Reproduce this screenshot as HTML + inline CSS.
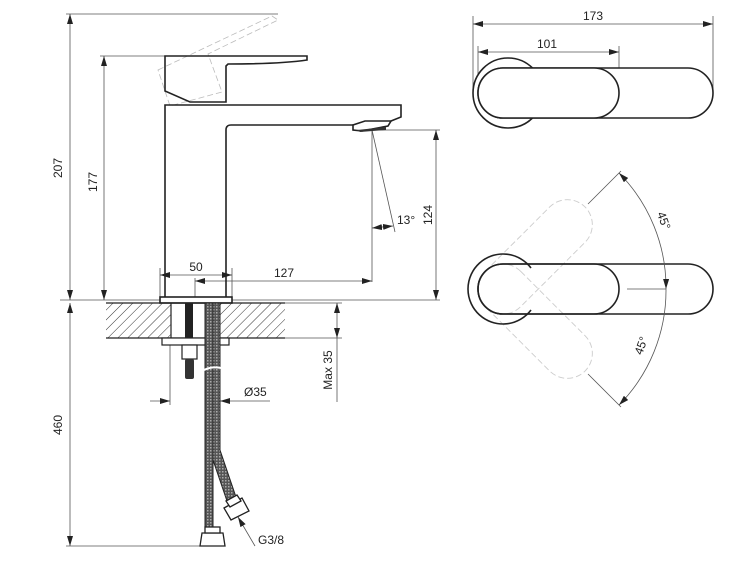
<!DOCTYPE html>
<html><head><meta charset="utf-8"><style>
html,body{margin:0;padding:0;background:#fff;}
svg{display:block;}
text{font-family:"Liberation Sans",sans-serif;font-size:12px;fill:#222;}
</style></head><body>
<svg width="738" height="577" viewBox="0 0 738 577" xmlns="http://www.w3.org/2000/svg">
<defs>
<pattern id="h" width="7" height="7" patternUnits="userSpaceOnUse" patternTransform="rotate(45)">
<line x1="0" y1="0" x2="0" y2="7" stroke="#333" stroke-width="1"/>
</pattern>
<pattern id="hose" width="3" height="3" patternUnits="userSpaceOnUse">
<rect width="3" height="3" fill="#555"/><rect width="1.5" height="1.5" fill="#aaa"/>
</pattern>
<marker id="a" viewBox="0 0 10 6" refX="10" refY="3" markerWidth="10" markerHeight="6" orient="auto-start-reverse" markerUnits="userSpaceOnUse">
<path d="M0,0 L10,3 L0,6 z" fill="#222"/>
</marker>
</defs>

<!-- dimension lines thin -->
<g stroke="#555" stroke-width="0.8" fill="none">
<line x1="66" y1="14" x2="278" y2="14"/>
<line x1="70" y1="14" x2="70" y2="300" marker-start="url(#a)" marker-end="url(#a)"/>
<line x1="100" y1="56" x2="165" y2="56"/>
<line x1="104" y1="56" x2="104" y2="300" marker-start="url(#a)" marker-end="url(#a)"/>
<line x1="370" y1="130" x2="440" y2="130"/>
<line x1="436" y1="130" x2="436" y2="300" marker-start="url(#a)" marker-end="url(#a)"/>
<line x1="372" y1="130" x2="372" y2="282"/>
<line x1="372" y1="130" x2="395" y2="232"/>
<line x1="372" y1="228" x2="393" y2="226" marker-start="url(#a)" marker-end="url(#a)"/>
<line x1="160" y1="268" x2="160" y2="297"/>
<line x1="232" y1="268" x2="232" y2="297"/>
<line x1="195" y1="278" x2="195" y2="300"/>
<line x1="160" y1="275" x2="232" y2="275" marker-start="url(#a)" marker-end="url(#a)"/>
<line x1="195" y1="281" x2="372" y2="281" marker-start="url(#a)" marker-end="url(#a)"/>
<line x1="60" y1="300" x2="440" y2="300"/>
<line x1="70" y1="303" x2="70" y2="546" marker-start="url(#a)" marker-end="url(#a)"/>
<line x1="66" y1="546" x2="200" y2="546"/>
<line x1="285" y1="338" x2="342" y2="338"/>
<line x1="285" y1="303" x2="342" y2="303"/>
<line x1="337" y1="303" x2="337" y2="338" marker-start="url(#a)" marker-end="url(#a)"/>
<line x1="337" y1="338" x2="337" y2="402"/>
<line x1="170" y1="345" x2="170" y2="405"/>
<line x1="220" y1="345" x2="220" y2="405"/>
<line x1="150" y1="401" x2="170" y2="401" marker-end="url(#a)"/>
<line x1="270" y1="401" x2="220" y2="401" marker-end="url(#a)"/>
<line x1="255" y1="546" x2="238" y2="517" marker-end="url(#a)"/>
</g>
<text x="62" y="168" transform="rotate(-90 62 168)" text-anchor="middle">207</text>
<text x="97" y="182" transform="rotate(-90 97 182)" text-anchor="middle">177</text>
<text x="432" y="215" transform="rotate(-90 432 215)" text-anchor="middle">124</text>
<text x="397" y="224">13°</text>
<text x="196" y="271" text-anchor="middle">50</text>
<text x="284" y="277" text-anchor="middle">127</text>
<text x="62" y="425" transform="rotate(-90 62 425)" text-anchor="middle">460</text>
<text x="332" y="370" transform="rotate(-90 332 370)" text-anchor="middle">Max 35</text>
<text x="244" y="396">Ø35</text>
<text x="258" y="544">G3/8</text>

<!-- dashed raised lever -->
<g stroke="#bbb" stroke-width="0.8" fill="none" stroke-dasharray="6,3">
<path d="M158,70 L272,16 L278,20 L208,54 L222,92 L170,106 Z"/>
</g>

<!-- faucet body -->
<g stroke="#222" stroke-width="1.6" fill="none">
<path d="M165,56 L307,56 L307,60 Q280,64 228,64 L226,66 L226,102 L190,102 L165,91 Z"/>
<path d="M165,297 L165,105 L401,105 L401,117 L391,121"/>
<path d="M226,297 L226,130 Q226,125 231,125 L353,125"/>
<path d="M353,125 L353,130 L362,131 L388,126 L391,121 L365,121 Z"/>
<rect x="160" y="297" width="72" height="6" fill="#fff"/>
</g>
<path d="M357,130 L386,127 L386,130 L360,132 Z" fill="#333"/>

<!-- countertop -->
<rect x="106" y="303" width="65" height="35" fill="url(#h)"/>
<rect x="220" y="303" width="65" height="35" fill="url(#h)"/>
<g stroke="#222" stroke-width="1.2" fill="none">
<line x1="106" y1="303" x2="285" y2="303"/>
<line x1="106" y1="338" x2="285" y2="338"/>
<line x1="171" y1="303" x2="171" y2="338"/>
<rect x="162" y="338" width="67" height="7" fill="#fff"/>
</g>
<rect x="185" y="303" width="8" height="35" fill="#222"/>
<rect x="182" y="345" width="15" height="14" fill="#fff" stroke="#222" stroke-width="1.2"/>
<rect x="185" y="359" width="9" height="20" fill="#333" rx="2"/>
<!-- hoses -->
<path d="M205,303 L220,303 L220,450 L237,500 L228,504 L213,460 L213,530 L205,530 Z" fill="url(#hose)" stroke="#222" stroke-width="1"/>
<line x1="213" y1="303" x2="213" y2="530" stroke="#222" stroke-width="0.8"/>
<path d="M204,370 Q212,366 221,368" stroke="#fff" stroke-width="2" fill="none"/>
<g stroke="#222" stroke-width="1.3" fill="#fff">
<path d="M202,533 L223,533 L225,546 L200,546 Z"/>
<rect x="205" y="527" width="15" height="6"/>
<path d="M224,508 L242,498 L249,511 L231,520 Z"/>
<path d="M226,501 L237,495 L241,501 L230,507 Z"/>
</g>

<!-- top view dims -->
<g stroke="#555" stroke-width="0.8" fill="none">
<line x1="473" y1="16" x2="473" y2="92"/>
<line x1="713" y1="16" x2="713" y2="92"/>
<line x1="478" y1="46" x2="478" y2="92"/>
<line x1="619" y1="46" x2="619" y2="92"/>
<line x1="473" y1="24" x2="713" y2="24" marker-start="url(#a)" marker-end="url(#a)"/>
<line x1="478" y1="52" x2="619" y2="52" marker-start="url(#a)" marker-end="url(#a)"/>
</g>
<text x="593" y="20" text-anchor="middle">173</text>
<text x="547" y="48" text-anchor="middle">101</text>

<g stroke="#222" stroke-width="1.6" fill="#fff">
<circle cx="508" cy="93" r="35"/>
<rect x="478" y="68" width="235" height="50" rx="25"/>
<rect x="478" y="68" width="141" height="50" rx="25"/>
</g>

<!-- bottom view -->
<g stroke="#ccc" stroke-width="0.9" fill="none" stroke-dasharray="6,3">
<rect x="478" y="264" width="141" height="50" rx="25" transform="rotate(-45 503 289)"/>
<rect x="478" y="264" width="141" height="50" rx="25" transform="rotate(45 503 289)"/>
</g>
<g stroke="#222" stroke-width="1.6" fill="none">
<path d="M531,268 A35,35 0 1 0 531,310"/>
<rect x="478" y="264" width="235" height="50" rx="25"/>
<rect x="478" y="264" width="141" height="50" rx="25"/>
</g>
<g stroke="#555" stroke-width="0.8" fill="none">
<line x1="588" y1="204" x2="621" y2="171"/>
<line x1="588" y1="374" x2="621" y2="407"/>
<path d="M619,173 A163,163 0 0 1 666,289" marker-start="url(#a)" marker-end="url(#a)"/>
<path d="M666,289 A163,163 0 0 1 619,405" marker-end="url(#a)"/>
<line x1="627" y1="289" x2="666" y2="289"/>
</g>
<text x="660" y="222" transform="rotate(70 660 222)" text-anchor="middle">45°</text>
<text x="645" y="347" transform="rotate(-70 645 347)" text-anchor="middle">45°</text>
</svg>
</body></html>
